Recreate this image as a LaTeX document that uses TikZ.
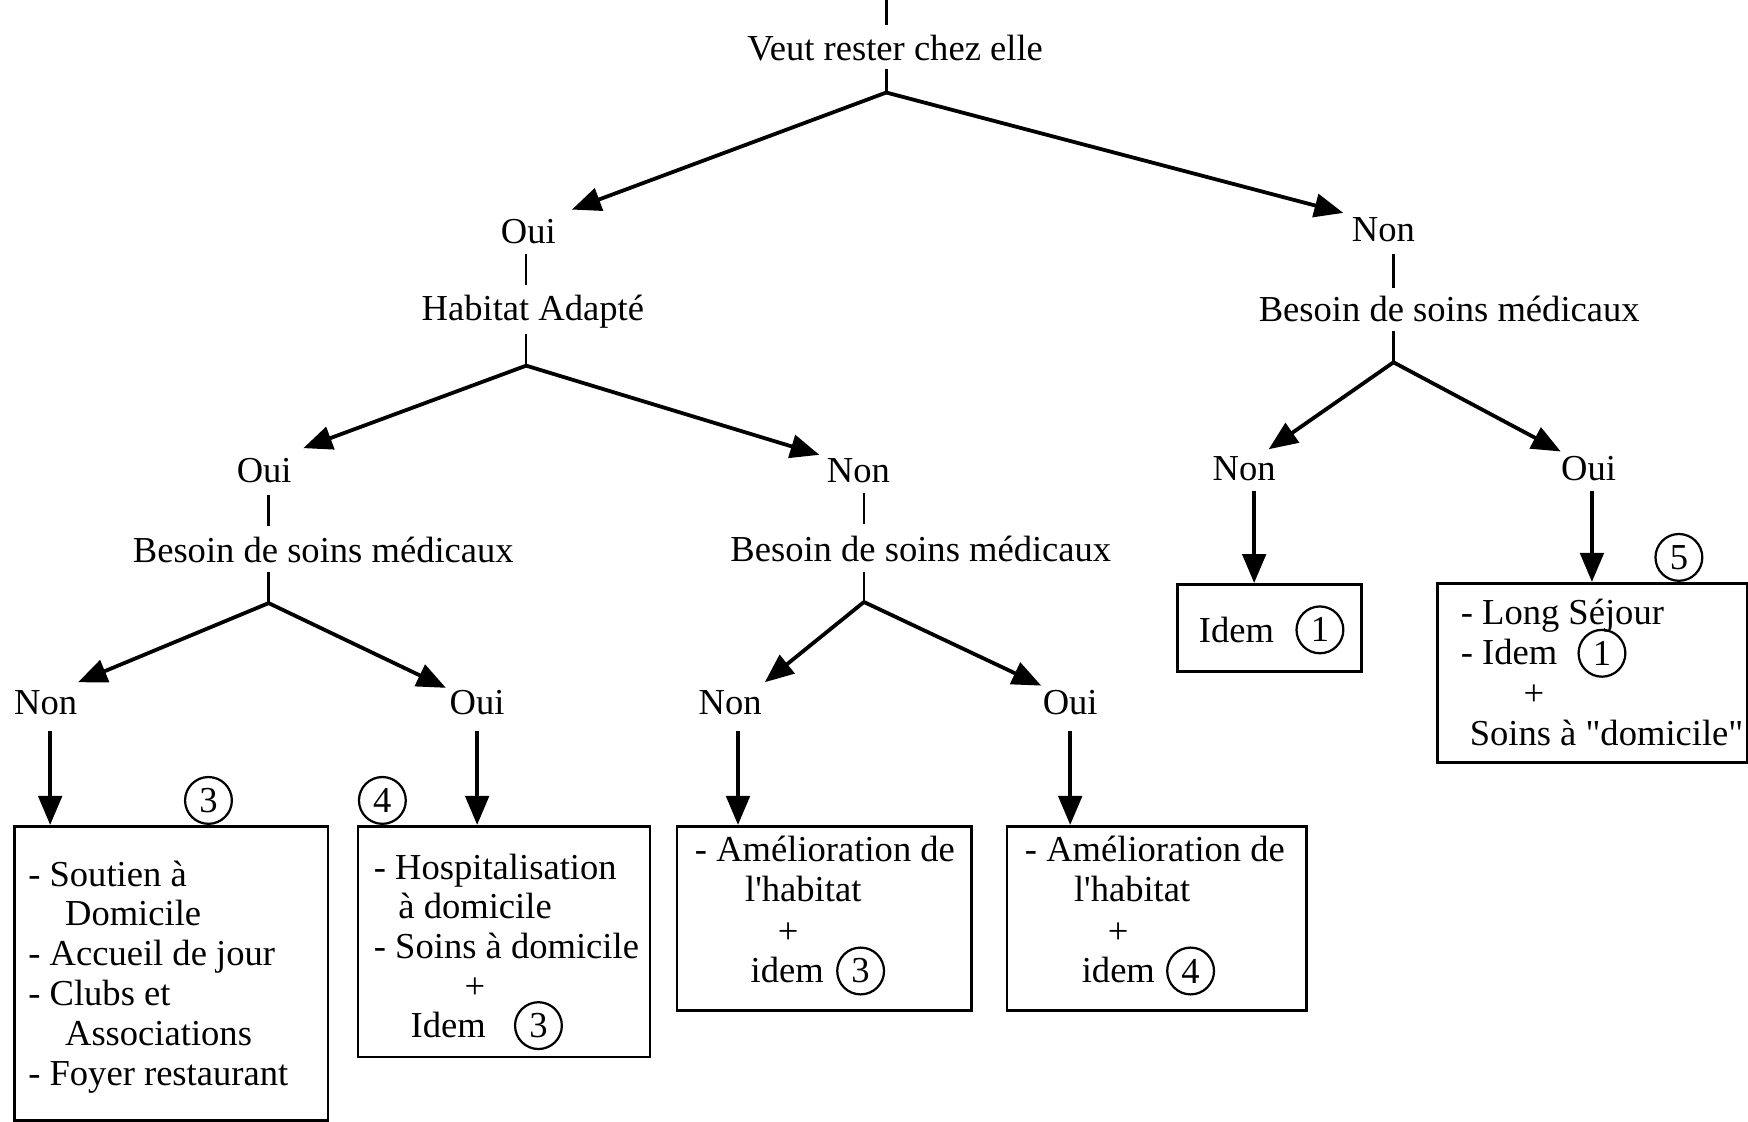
\documentclass[tikz,border=0pt]{standalone}
\usepackage{fontspec}
\newfontfamily\tnr{Liberation Serif}
\usetikzlibrary{arrows.meta}
\tikzset{
  lbl/.style={font=\tnr\fontsize{16.4}{18}\selectfont, inner sep=0pt},
  ln/.style={lbl, anchor=base west},
  lnc/.style={lbl, anchor=base},
  stem/.style={line width=1.1pt},
  arr/.style={line width=1.7pt, -{Triangle[length=13pt,width=10.5pt]}},
  vbox/.style={draw, line width=1.2pt},
  num/.style={draw, circle, line width=1pt, minimum size=21pt, inner sep=0pt, font=\tnr\fontsize{16.4}{18}\selectfont, fill=white},
  numi/.style={draw, circle, line width=1pt, minimum size=21pt, inner sep=0pt, font=\tnr\fontsize{16.4}{18}\selectfont}
}
\begin{document}
\begin{tikzpicture}[x=0.5pt,y=-0.5pt]
\useasboundingbox (0,0) rectangle (1568,1006);
% ---------- level 0
\node[lbl] (veut) at (803,43) {Veut rester chez elle};
\coordinate (top) at (795,0);
\coordinate (topb) at (795,22);
\coordinate (v1) at (795,62);
\coordinate (s0) at (795,83);
\draw[stem] (top) -- (topb);
\draw[stem] (v1) -- (s0);
% ---------- level 1
\node[lbl] (oui1) at (474,208) {Oui};
\node[lbl] (non1) at (1241,206) {Non};
\coordinate (t01) at (513,188);
\coordinate (t02) at (1205,191);
\draw[arr] (s0) -- (t01);
\draw[arr] (s0) -- (t02);
\node[lbl] (hab) at (478,280) {Habitat Adapté};
\node[lbl] (besR) at (1300,277) {Besoin de soins médicaux};
\coordinate (h1) at (472,228); \coordinate (h2) at (472,256);
\coordinate (h3) at (472,300); \coordinate (s1) at (472,328);
\draw[stem] (h1) -- (h2); \draw[stem] (h3) -- (s1);
\coordinate (r1) at (1250,228); \coordinate (r2) at (1250,258);
\coordinate (r3) at (1250,297); \coordinate (s2) at (1250,325);
\draw[stem] (r1) -- (r2); \draw[stem] (r3) -- (s2);
% ---------- level 2
\node[lbl] (oui2) at (237,422) {Oui};
\node[lbl] (non2) at (770,422) {Non};
\node[lbl] (nonR) at (1116,420) {Non};
\node[lbl] (ouiR) at (1425,420) {Oui};
\coordinate (t11) at (272,402); \coordinate (t12) at (735,408);
\coordinate (t21) at (1138,403); \coordinate (t22) at (1400,405);
\draw[arr] (s1) -- (t11); \draw[arr] (s1) -- (t12);
\draw[arr] (s2) -- (t21); \draw[arr] (s2) -- (t22);
\node[lbl] (besL) at (290,493) {Besoin de soins médicaux};
\node[lbl] (besM) at (826,492) {Besoin de soins médicaux};
\coordinate (l1) at (241,444); \coordinate (l2) at (241,472);
\coordinate (l3) at (241,513); \coordinate (s3) at (241,541);
\draw[stem] (l1) -- (l2); \draw[stem] (l3) -- (s3);
\coordinate (m1) at (775,442); \coordinate (m2) at (775,470);
\coordinate (m3) at (775,513); \coordinate (s4) at (775,540);
\draw[stem] (m1) -- (m2); \draw[stem] (m3) -- (s4);
% ---------- level 3
\node[lbl] (nonLL) at (41,630) {Non};
\node[lbl] (ouiLR) at (428,630) {Oui};
\node[lbl] (nonML) at (655,630) {Non};
\node[lbl] (ouiMR) at (960,630) {Oui};
\coordinate (t31) at (70,612); \coordinate (t32) at (400,617);
\coordinate (t41) at (686,612); \coordinate (t42) at (934,615);
\draw[arr] (s3) -- (t31); \draw[arr] (s3) -- (t32);
\draw[arr] (s4) -- (t41); \draw[arr] (s4) -- (t42);
% ---------- boxes
\node[vbox, minimum width=140.5pt, minimum height=132pt, anchor=north west, inner sep=0pt] (boxA) at (12,740) {};
\node[vbox, minimum width=131pt, minimum height=103.5pt, anchor=north west, inner sep=0pt] (boxB) at (320,740) {};
\node[vbox, minimum width=132pt, minimum height=82.5pt, anchor=north west, inner sep=0pt] (boxC) at (606,740) {};
\node[vbox, minimum width=134.5pt, minimum height=82.5pt, anchor=north west, inner sep=0pt] (boxD) at (902,740) {};
\node[vbox, minimum width=82.5pt, minimum height=39pt, anchor=north west, inner sep=0pt] (boxE) at (1055,523) {};
\node[vbox, minimum width=139pt, minimum height=80.5pt, anchor=north west, inner sep=0pt] (boxF) at (1288,522) {};
% vertical arrows into boxes
\coordinate (a1) at (45,656);  \draw[arr] (a1) -- (a1 |- boxA.north);
\coordinate (a2) at (428,656); \draw[arr] (a2) -- (a2 |- boxB.north);
\coordinate (a3) at (662,656); \draw[arr] (a3) -- (a3 |- boxC.north);
\coordinate (a4) at (960,656); \draw[arr] (a4) -- (a4 |- boxD.north);
\coordinate (a5) at (1125,440); \draw[arr] (a5) -- (a5 |- boxE.north);
\coordinate (a6) at (1428,440); \draw[arr] (a6) -- (a6 |- boxF.north);
% circled numbers on box edges
\node[num] (c3) at (187,718) {3};
\node[num] (c4) at (343,718) {4};
\node[num] (c5) at (1506,500) {5};
% ---------- box A text
\node[ln] (A1) at (25,795) {- Soutien à};
\node[ln] (A2) at (58,830) {Domicile};
\node[ln] (A3) at (25,866) {- Accueil de jour};
\node[ln] (A4) at (25,902) {- Clubs et};
\node[ln] (A5) at (58,938) {Associations};
\node[ln] (A6) at (25,974) {- Foyer restaurant};
% ---------- box B text
\node[ln] (B1) at (335,789) {- Hospitalisation};
\node[ln] (B2) at (357,824) {à domicile};
\node[ln] (B3) at (335,860) {- Soins à domicile};
\node[lnc] (B4) at (426,896) {+};
\node[ln] (B5) at (368,931) {Idem};
\node[numi] (B6) at (483,920) {3};
% ---------- box C text
\node[ln] (C1) at (623,773) {- Amélioration de};
\node[ln] (C2) at (668,809) {l'habitat};
\node[lnc] (C3) at (707,846) {+};
\node[ln] (C4) at (673,881) {idem};
\node[numi] (C5) at (772,871) {3};
% ---------- box D text
\node[ln] (D1) at (919,773) {- Amélioration de};
\node[ln] (D2) at (963,809) {l'habitat};
\node[lnc] (D3) at (1003,846) {+};
\node[ln] (D4) at (970,881) {idem};
\node[numi] (D5) at (1068,871) {4};
% ---------- box E text
\node[ln] (E1) at (1075,576) {Idem};
\node[numi] (E2) at (1184,565) {1};
% ---------- box F text
\node[ln] (F1) at (1310,560) {- Long Séjour};
\node[ln] (F2) at (1310,596) {- Idem};
\node[numi] (F3) at (1437,586) {1};
\node[lnc] (F4) at (1376,633) {+};
\node[ln] (F5) at (1318,669) {Soins à "domicile"};
\end{tikzpicture}
\end{document}
